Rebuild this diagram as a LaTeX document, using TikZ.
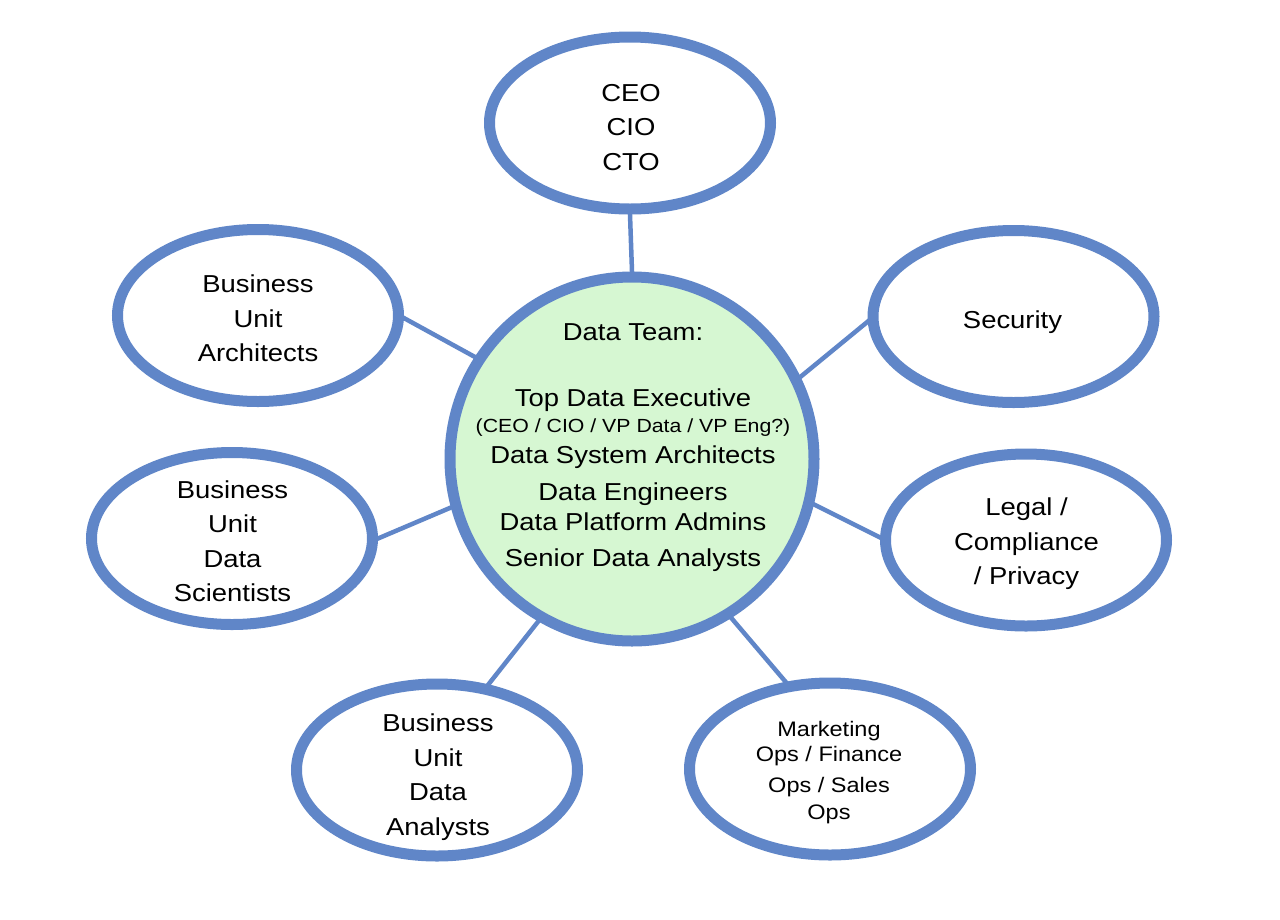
\documentclass[tikz,border=0pt]{standalone}
\usepackage{fontspec}
\setmainfont{Liberation Sans}[FakeStretch=1.12]
\usetikzlibrary{shapes.geometric,backgrounds}
\definecolor{ringblue}{RGB}{96,134,200}
\definecolor{teamgreen}{RGB}{214,247,210}
\begin{document}
\begin{tikzpicture}[x=1pt,y=-1pt,
  oval/.style={ellipse, draw=ringblue, line width=11pt, fill=white,
    minimum width=281pt, minimum height=172pt, inner sep=0pt},
  hub/.style={circle, draw=ringblue, line width=11pt, fill=teamgreen,
    minimum size=364pt, inner sep=0pt},
  conn/.style={draw=ringblue, line width=4.5pt, shorten <=-5pt, shorten >=-5pt},
  lbl/.style={align=center, font=\fontsize{24.5}{34.5}\selectfont, inner sep=0pt},
  smalllbl/.style={align=center, font=\fontsize{21}{28}\selectfont, inner sep=0pt},
  tinylbl/.style={align=center, font=\fontsize{19}{23}\selectfont, inner sep=0pt}]
\useasboundingbox (0,0) rectangle (1280,919);

% shapes
\node[hub]  (team) at (632,459) {};
\node[oval] (ceo)  at (630,123) {};
\node[oval] (bua)  at (258,315.5) {};
\node[oval] (sec)  at (1013.5,316.5) {};
\node[oval] (buds) at (232,538.5) {};
\node[oval] (legal) at (1026,540) {};
\node[oval] (buda) at (437,770) {};
\node[oval] (mkt)  at (830,769) {};

% connectors
\begin{pgfonlayer}{background}
\fill[white] (0,0) rectangle (1280,919);
\draw[conn] (team.90)   -- (ceo.-90);
\draw[conn] (team.147)  -- (bua.-1);
\draw[conn] (team.26)   -- (sec.182);
\draw[conn] (team.195)  -- (buds.0);
\draw[conn] (team.-14)  -- (legal.179);
\draw[conn] (team.-120) -- (buda.59);
\draw[conn] (team.-58)  -- (mkt.117);
\end{pgfonlayer}

% texts of outer ellipses
\node[lbl] (ceoT)   at (631,127.3)    {CEO\\CIO\\CTO};
\node[lbl] (buaT)   at (258,318.3)    {Business\\Unit\\Architects};
\node[lbl] (secT)   at (1012.5,322)   {Security};
\node[lbl] (budsT)  at (232.5,541.3)  {Business\\Unit\\Data\\Scientists};
\node[lbl] (legalT) at (1026.5,543.8) {Legal /\\Compliance\\/ Privacy};
\node[lbl] (budaT)  at (438,777)      {Business\\Unit\\Data\\Analysts};
\node[smalllbl] (mktT) at (829,773)   {Marketing\\[-3pt]Ops / Finance\\[3pt]Ops / Sales\\[-1pt]Ops};

% texts of the data team
\node[lbl, anchor=base] (t1) at (633,340) {Data Team:};
\node[lbl, anchor=base] (t2) at (633,406) {Top Data Executive};
\node[tinylbl, anchor=base] (t3) at (633,432) {(CEO / CIO / VP Data / VP Eng?)};
\node[lbl, anchor=base] (t4) at (633,463) {Data System Architects};
\node[lbl, anchor=base] (t5) at (633,500) {Data Engineers};
\node[lbl, anchor=base] (t6) at (633,530) {Data Platform Admins};
\node[lbl, anchor=base] (t7) at (633,566) {Senior Data Analysts};
\end{tikzpicture}
\end{document}
